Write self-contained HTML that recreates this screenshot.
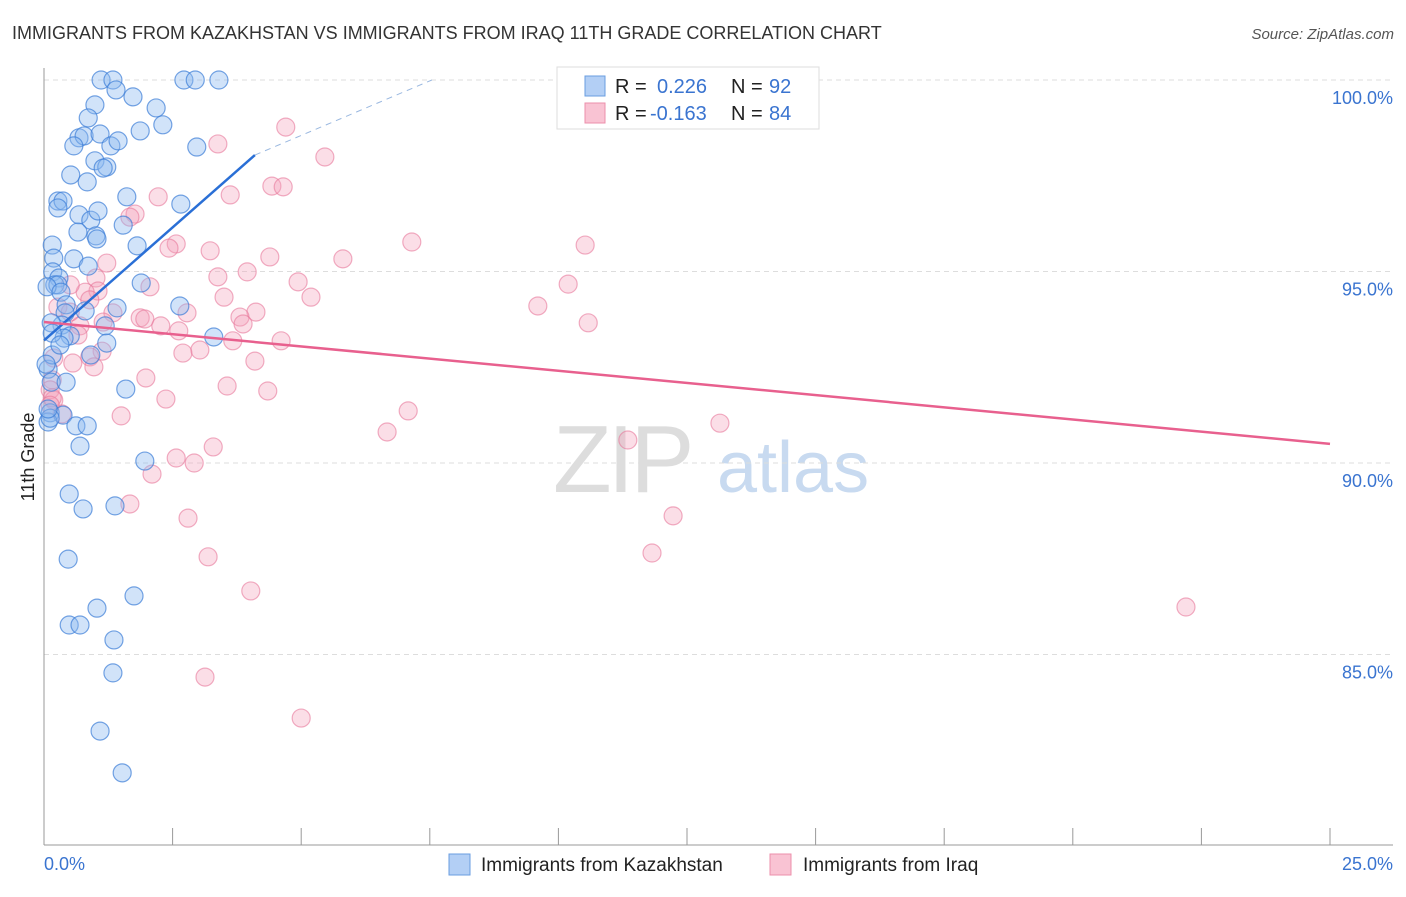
<!DOCTYPE html>
<html><head><meta charset="utf-8"><style>
body{margin:0;background:#fff;font-family:"Liberation Sans",sans-serif;}
svg text{font-family:"Liberation Sans",sans-serif;}
</style></head><body>
<svg id="chart" width="1406" height="892" xmlns="http://www.w3.org/2000/svg">
<text x="12" y="39" font-size="18" fill="#333">IMMIGRANTS FROM KAZAKHSTAN VS IMMIGRANTS FROM IRAQ 11TH GRADE CORRELATION CHART</text>
<text x="1394" y="39" font-size="15" fill="#555" text-anchor="end" font-style="italic">Source: ZipAtlas.com</text>
<g>
<text x="553" y="492" font-size="96" fill="#ddd" font-family="Liberation Serif" letter-spacing="-4">ZIP</text>
<text x="717" y="492" font-size="72" fill="#c8daf0">atlas</text>
</g>
<g id="grid"></g>
<g id="axes"></g>
<g id="marks"></g>
<g>
<rect x="557" y="67" width="262" height="62" fill="#fff" stroke="#ddd"/>
<rect x="585" y="76" width="20" height="20" fill="#b3cff5" stroke="#6a9de0"/>
<rect x="585" y="103" width="20" height="20" fill="#f9c3d3" stroke="#ec8fab"/>
<text x="615" y="93" font-size="20" fill="#222">R =</text><text x="657" y="93" font-size="20" fill="#3a74d0">0.226</text>
<text x="731" y="93" font-size="20" fill="#222">N =</text><text x="769" y="93" font-size="20" fill="#3a74d0">92</text>
<text x="615" y="120" font-size="20" fill="#222">R =</text><text x="650" y="120" font-size="20" fill="#3a74d0">-0.163</text>
<text x="731" y="120" font-size="20" fill="#222">N =</text><text x="769" y="120" font-size="20" fill="#3a74d0">84</text>
</g>
<text transform="translate(34,457) rotate(-90)" font-size="18" fill="#222" text-anchor="middle">11th Grade</text>
<g>
<rect x="449" y="854" width="21" height="21" fill="#b3cff5" stroke="#6a9de0"/>
<text x="481" y="871" font-size="19" fill="#222">Immigrants from Kazakhstan</text>
<rect x="770" y="854" width="21" height="21" fill="#f9c3d3" stroke="#ec8fab"/>
<text x="803" y="871" font-size="19" fill="#222">Immigrants from Iraq</text>
</g>
</svg>
<script>
const yTicks=[100,95,90,85];
const yTickLabels=["100.0%","95.0%","90.0%","85.0%"];
const xTickVals=[0,2.5,5,7.5,10,12.5,15,17.5,20,22.5,25];
const blueX=[1.11,1.34,2.72,2.94,3.40,1.40,1.73,0.99,2.18,0.86,2.31,1.87,0.68,0.78,1.09,0.58,1.30,1.44,2.97,0.99,1.22,1.15,0.52,0.84,1.61,0.27,0.37,0.27,2.66,0.68,0.91,1.05,1.54,1.01,1.03,0.66,1.81,0.16,0.19,0.58,0.86,0.17,0.29,0.21,1.89,0.27,0.06,0.33,0.43,2.64,1.42,0.80,0.41,0.35,1.19,0.14,0.51,0.39,3.30,1.22,0.16,0.91,0.08,0.14,0.43,1.59,0.12,0.37,0.08,0.62,0.84,0.70,1.96,0.49,0.76,1.38,0.47,1.75,1.03,0.49,0.70,1.36,1.34,1.09,1.52,0.12,0.08,0.16,0.04,0.31];
const blueY=[100,100,100,100,100,99.74,99.56,99.35,99.27,99.01,98.83,98.67,98.49,98.54,98.59,98.28,98.28,98.41,98.25,97.89,97.73,97.70,97.52,97.34,96.95,96.84,96.84,96.66,96.76,96.48,96.34,96.58,96.21,95.93,95.85,96.03,95.67,95.69,95.35,95.33,95.14,94.99,94.83,94.65,94.70,94.65,94.60,94.46,94.13,94.10,94.05,93.97,93.92,93.60,93.58,93.66,93.32,93.26,93.29,93.13,93.39,92.82,92.45,92.11,92.11,91.93,91.31,91.25,91.07,90.97,90.97,90.44,90.05,89.19,88.80,88.88,87.49,86.53,86.21,85.77,85.77,85.38,84.52,83.00,81.91,91.17,91.41,92.82,92.58,93.08];
const pinkX=[14.09,4.70,3.38,5.46,3.62,2.22,4.43,4.65,1.77,1.67,7.15,10.52,2.57,2.43,3.23,4.39,5.81,3.95,3.38,1.22,4.94,5.19,1.01,2.06,1.05,3.50,9.60,10.19,10.58,1.34,2.78,1.87,1.96,4.12,3.81,3.87,2.27,2.62,1.15,0.70,0.66,4.61,3.67,0.27,0.51,0.80,3.03,2.70,1.13,0.89,0.56,0.19,0.97,4.10,1.98,3.56,4.35,0.16,0.12,0.19,2.37,7.08,1.50,0.35,6.67,13.14,11.35,3.29,2.57,2.92,2.10,2.80,12.23,1.67,3.19,11.82,4.02,22.20,3.13,5.00,0.16,0.12,0.89,0.51];
const pinkY=[100,98.77,98.33,97.99,97.00,96.95,97.23,97.21,96.50,96.42,95.77,95.69,95.72,95.61,95.54,95.38,95.33,94.99,94.86,95.22,94.73,94.33,94.83,94.60,94.49,94.33,94.10,94.67,93.66,93.92,93.92,93.79,93.76,93.94,93.81,93.63,93.58,93.45,93.68,93.58,93.34,93.19,93.19,94.07,93.94,94.46,92.95,92.87,92.92,92.77,92.61,92.74,92.51,92.66,92.22,92.01,91.88,92.17,91.91,91.64,91.67,91.36,91.23,91.28,90.81,91.04,90.60,90.42,90.13,90.00,89.71,88.56,88.62,88.93,87.55,87.65,86.66,86.24,84.41,83.34,91.70,91.51,94.26,94.65];
const blueTrend=[[0,93.2],[4.1,98.04],[7.54,100]];
const pinkTrend=[[0,93.68],[25,90.5]];
const NS="http://www.w3.org/2000/svg";
const X0=44,X1=1330,YTOP=80,PXPER=38.3;
function sx(v){return X0+(v/25)*(X1-X0);}
function sy(v){return YTOP+(100-v)*PXPER;}
function mk(tag,attrs,parent){const e=document.createElementNS(NS,tag);for(const k in attrs)e.setAttribute(k,attrs[k]);parent.appendChild(e);return e;}
const grid=document.getElementById('grid'),axes=document.getElementById('axes'),marks=document.getElementById('marks');
yTicks.forEach((t,i)=>{
 const l=mk('line',{x1:X0,x2:1393,y1:sy(t),y2:sy(t),stroke:'#ddd','stroke-dasharray':'5,4'},grid);
 
 
 const tx=mk('text',{x:1393,y:sy(t)+24,'font-size':18,fill:'#3a74d0','text-anchor':'end'},axes);
 tx.textContent=yTickLabels[i];
 
 
});
const ya=mk('line',{x1:X0,x2:X0,y1:68,y2:845,stroke:'#999'},axes);


const xa=mk('line',{x1:X0,x2:1393,y1:845,y2:845,stroke:'#999'},axes);


xTickVals.forEach(t=>{
 const l=mk('line',{x1:sx(t),x2:sx(t),y1:828,y2:845,stroke:'#999'},axes);
 
 
});
const xl0=mk('text',{x:44,y:870,'font-size':18,fill:'#3a74d0'},axes);xl0.textContent='0.0%';


const xl1=mk('text',{x:1393,y:870,'font-size':18,fill:'#3a74d0','text-anchor':'end'},axes);xl1.textContent='25.0%';


pinkX.forEach((v,i)=>{
 const c=mk('circle',{cx:sx(v),cy:sy(pinkY[i]),r:9,fill:'rgba(244,160,186,0.35)',stroke:'rgba(232,120,155,0.6)','stroke-width':1.2},marks);
 
 
});
blueX.forEach((v,i)=>{
 const c=mk('circle',{cx:sx(v),cy:sy(blueY[i]),r:9,fill:'rgba(140,185,240,0.4)',stroke:'rgba(60,125,215,0.7)','stroke-width':1.2},marks);
 
 
});
const bt1=mk('line',{x1:sx(blueTrend[0][0]),y1:sy(blueTrend[0][1]),x2:sx(blueTrend[1][0]),y2:sy(blueTrend[1][1]),stroke:'#2a6fd6','stroke-width':2.5},marks);


const bt2=mk('line',{x1:sx(blueTrend[1][0]),y1:sy(blueTrend[1][1]),x2:sx(blueTrend[2][0]),y2:sy(blueTrend[2][1]),stroke:'#9ab8e0','stroke-width':1,'stroke-dasharray':'6,5'},marks);


const pt=mk('line',{x1:sx(pinkTrend[0][0]),y1:sy(pinkTrend[0][1]),x2:sx(pinkTrend[1][0]),y2:sy(pinkTrend[1][1]),stroke:'#e8608e','stroke-width':2.5},marks);


</script>
</body></html>
